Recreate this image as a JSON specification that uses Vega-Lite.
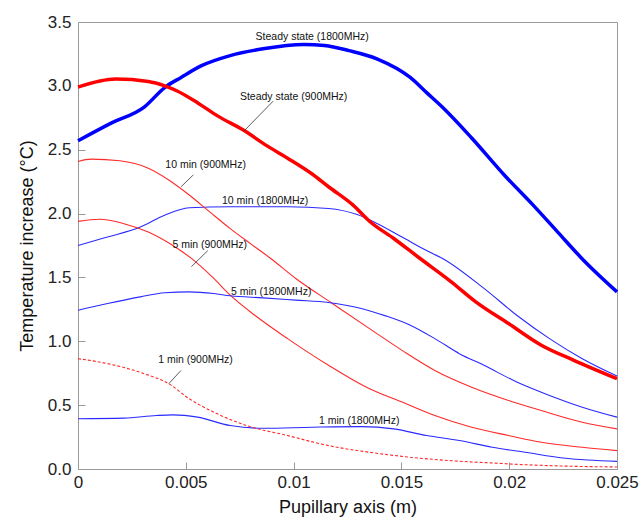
{
  "$schema": "https://vega.github.io/schema/vega-lite/v6.json",
  "width": 539,
  "height": 447,
  "autosize": {"type": "none"},
  "padding": {"left": 78, "top": 22, "right": 26, "bottom": 51},
  "background": "white",
  "config": {
    "view": {"stroke": "#999999", "strokeWidth": 1},
    "font": "Liberation Sans",
    "axis": {
      "grid": false,
      "domain": false,
      "tickColor": "#999999",
      "tickSize": -7,
      "labelFlush": false,
      "labelOverlap": false,
      "labelFont": "Liberation Sans",
      "labelFontSize": 17,
      "labelColor": "#222222",
      "titleFont": "Liberation Sans",
      "titleFontSize": 18,
      "titleFontWeight": "normal",
      "titleColor": "#111111"
    }
  },
  "datasets": {
    "curves": [
      {"s": "SS1800", "x": 0, "y": 2.57},
      {"s": "SS1800", "x": 0.00156, "y": 2.71},
      {"s": "SS1800", "x": 0.00307, "y": 2.834},
      {"s": "SS1800", "x": 0.00402, "y": 2.987},
      {"s": "SS1800", "x": 0.00478, "y": 3.066},
      {"s": "SS1800", "x": 0.00573, "y": 3.158},
      {"s": "SS1800", "x": 0.00706, "y": 3.237},
      {"s": "SS1800", "x": 0.00858, "y": 3.29},
      {"s": "SS1800", "x": 0.01048, "y": 3.324},
      {"s": "SS1800", "x": 0.01143, "y": 3.316},
      {"s": "SS1800", "x": 0.01257, "y": 3.276},
      {"s": "SS1800", "x": 0.01389, "y": 3.21},
      {"s": "SS1800", "x": 0.01541, "y": 3.066},
      {"s": "SS1800", "x": 0.01617, "y": 2.947},
      {"s": "SS1800", "x": 0.01693, "y": 2.829},
      {"s": "SS1800", "x": 0.01826, "y": 2.592},
      {"s": "SS1800", "x": 0.01978, "y": 2.3},
      {"s": "SS1800", "x": 0.02111, "y": 2.066},
      {"s": "SS1800", "x": 0.02225, "y": 1.855},
      {"s": "SS1800", "x": 0.02339, "y": 1.645},
      {"s": "SS1800", "x": 0.025, "y": 1.387},

      {"s": "SS900", "x": 0, "y": 2.99},
      {"s": "SS900", "x": 0.00175, "y": 3.053},
      {"s": "SS900", "x": 0.00326, "y": 3.034},
      {"s": "SS900", "x": 0.00402, "y": 3.0},
      {"s": "SS900", "x": 0.0046, "y": 2.96},
      {"s": "SS900", "x": 0.00554, "y": 2.868},
      {"s": "SS900", "x": 0.00649, "y": 2.763},
      {"s": "SS900", "x": 0.00763, "y": 2.658},
      {"s": "SS900", "x": 0.00877, "y": 2.53},
      {"s": "SS900", "x": 0.00972, "y": 2.434},
      {"s": "SS900", "x": 0.01086, "y": 2.31},
      {"s": "SS900", "x": 0.01162, "y": 2.21},
      {"s": "SS900", "x": 0.01276, "y": 2.066},
      {"s": "SS900", "x": 0.01352, "y": 1.94},
      {"s": "SS900", "x": 0.01466, "y": 1.803},
      {"s": "SS900", "x": 0.01579, "y": 1.658},
      {"s": "SS900", "x": 0.01731, "y": 1.466},
      {"s": "SS900", "x": 0.01845, "y": 1.309},
      {"s": "SS900", "x": 0.01997, "y": 1.139},
      {"s": "SS900", "x": 0.02149, "y": 0.969},
      {"s": "SS900", "x": 0.023, "y": 0.851},
      {"s": "SS900", "x": 0.025, "y": 0.707},

      {"s": "10m1800", "x": 0, "y": 1.75},
      {"s": "10m1800", "x": 0.00137, "y": 1.816},
      {"s": "10m1800", "x": 0.00289, "y": 1.895},
      {"s": "10m1800", "x": 0.00402, "y": 1.987},
      {"s": "10m1800", "x": 0.00516, "y": 2.045},
      {"s": "10m1800", "x": 0.00706, "y": 2.053},
      {"s": "10m1800", "x": 0.00972, "y": 2.053},
      {"s": "10m1800", "x": 0.01162, "y": 2.04},
      {"s": "10m1800", "x": 0.01295, "y": 1.992},
      {"s": "10m1800", "x": 0.01389, "y": 1.921},
      {"s": "10m1800", "x": 0.01503, "y": 1.816},
      {"s": "10m1800", "x": 0.01617, "y": 1.71},
      {"s": "10m1800", "x": 0.01693, "y": 1.647},
      {"s": "10m1800", "x": 0.01883, "y": 1.414},
      {"s": "10m1800", "x": 0.02035, "y": 1.204},
      {"s": "10m1800", "x": 0.02187, "y": 1.021},
      {"s": "10m1800", "x": 0.02339, "y": 0.864},
      {"s": "10m1800", "x": 0.025, "y": 0.728},

      {"s": "10m900", "x": 0, "y": 2.408},
      {"s": "10m900", "x": 0.00061, "y": 2.426},
      {"s": "10m900", "x": 0.00194, "y": 2.413},
      {"s": "10m900", "x": 0.00326, "y": 2.355},
      {"s": "10m900", "x": 0.00421, "y": 2.263},
      {"s": "10m900", "x": 0.00516, "y": 2.145},
      {"s": "10m900", "x": 0.00611, "y": 2.013},
      {"s": "10m900", "x": 0.00706, "y": 1.882},
      {"s": "10m900", "x": 0.00801, "y": 1.763},
      {"s": "10m900", "x": 0.00891, "y": 1.652},
      {"s": "10m900", "x": 0.0101, "y": 1.492},
      {"s": "10m900", "x": 0.0118, "y": 1.296},
      {"s": "10m900", "x": 0.01352, "y": 1.099},
      {"s": "10m900", "x": 0.01503, "y": 0.929},
      {"s": "10m900", "x": 0.01655, "y": 0.772},
      {"s": "10m900", "x": 0.01826, "y": 0.641},
      {"s": "10m900", "x": 0.01997, "y": 0.537},
      {"s": "10m900", "x": 0.02149, "y": 0.458},
      {"s": "10m900", "x": 0.02339, "y": 0.366},
      {"s": "10m900", "x": 0.025, "y": 0.314},

      {"s": "5m900", "x": 0, "y": 1.939},
      {"s": "5m900", "x": 0.00099, "y": 1.955},
      {"s": "5m900", "x": 0.00213, "y": 1.921},
      {"s": "5m900", "x": 0.00326, "y": 1.855},
      {"s": "5m900", "x": 0.0044, "y": 1.75},
      {"s": "5m900", "x": 0.00526, "y": 1.649},
      {"s": "5m900", "x": 0.0063, "y": 1.492},
      {"s": "5m900", "x": 0.00706, "y": 1.361},
      {"s": "5m900", "x": 0.0082, "y": 1.204},
      {"s": "5m900", "x": 0.00972, "y": 1.021},
      {"s": "5m900", "x": 0.01162, "y": 0.812},
      {"s": "5m900", "x": 0.01352, "y": 0.628},
      {"s": "5m900", "x": 0.01503, "y": 0.524},
      {"s": "5m900", "x": 0.01655, "y": 0.419},
      {"s": "5m900", "x": 0.01826, "y": 0.327},
      {"s": "5m900", "x": 0.01997, "y": 0.262},
      {"s": "5m900", "x": 0.02149, "y": 0.209},
      {"s": "5m900", "x": 0.02339, "y": 0.17},
      {"s": "5m900", "x": 0.025, "y": 0.144},

      {"s": "5m1800", "x": 0, "y": 1.243},
      {"s": "5m1800", "x": 0.00137, "y": 1.296},
      {"s": "5m1800", "x": 0.00289, "y": 1.348},
      {"s": "5m1800", "x": 0.00402, "y": 1.38},
      {"s": "5m1800", "x": 0.00516, "y": 1.387},
      {"s": "5m1800", "x": 0.0063, "y": 1.374},
      {"s": "5m1800", "x": 0.00706, "y": 1.356},
      {"s": "5m1800", "x": 0.00858, "y": 1.34},
      {"s": "5m1800", "x": 0.0101, "y": 1.322},
      {"s": "5m1800", "x": 0.01162, "y": 1.304},
      {"s": "5m1800", "x": 0.01314, "y": 1.257},
      {"s": "5m1800", "x": 0.01427, "y": 1.199},
      {"s": "5m1800", "x": 0.01541, "y": 1.126},
      {"s": "5m1800", "x": 0.01655, "y": 1.021},
      {"s": "5m1800", "x": 0.01769, "y": 0.903},
      {"s": "5m1800", "x": 0.01883, "y": 0.812},
      {"s": "5m1800", "x": 0.02035, "y": 0.681},
      {"s": "5m1800", "x": 0.02187, "y": 0.576},
      {"s": "5m1800", "x": 0.02339, "y": 0.484},
      {"s": "5m1800", "x": 0.025, "y": 0.406},

      {"s": "1m900", "x": 0, "y": 0.864},
      {"s": "1m900", "x": 0.00137, "y": 0.825},
      {"s": "1m900", "x": 0.00307, "y": 0.746},
      {"s": "1m900", "x": 0.00421, "y": 0.668},
      {"s": "1m900", "x": 0.00516, "y": 0.55},
      {"s": "1m900", "x": 0.0063, "y": 0.445},
      {"s": "1m900", "x": 0.00782, "y": 0.34},
      {"s": "1m900", "x": 0.00972, "y": 0.262},
      {"s": "1m900", "x": 0.01162, "y": 0.183},
      {"s": "1m900", "x": 0.01352, "y": 0.131},
      {"s": "1m900", "x": 0.01541, "y": 0.092},
      {"s": "1m900", "x": 0.01731, "y": 0.065},
      {"s": "1m900", "x": 0.01921, "y": 0.047},
      {"s": "1m900", "x": 0.0211, "y": 0.031},
      {"s": "1m900", "x": 0.023, "y": 0.021},
      {"s": "1m900", "x": 0.025, "y": 0.016},

      {"s": "1m1800", "x": 0, "y": 0.393},
      {"s": "1m1800", "x": 0.00213, "y": 0.398},
      {"s": "1m1800", "x": 0.00364, "y": 0.419},
      {"s": "1m1800", "x": 0.0044, "y": 0.424},
      {"s": "1m1800", "x": 0.00554, "y": 0.406},
      {"s": "1m1800", "x": 0.00706, "y": 0.34},
      {"s": "1m1800", "x": 0.00858, "y": 0.319},
      {"s": "1m1800", "x": 0.01086, "y": 0.327},
      {"s": "1m1800", "x": 0.01314, "y": 0.332},
      {"s": "1m1800", "x": 0.01465, "y": 0.314},
      {"s": "1m1800", "x": 0.01617, "y": 0.262},
      {"s": "1m1800", "x": 0.01769, "y": 0.223},
      {"s": "1m1800", "x": 0.01921, "y": 0.17},
      {"s": "1m1800", "x": 0.02073, "y": 0.131},
      {"s": "1m1800", "x": 0.02262, "y": 0.084},
      {"s": "1m1800", "x": 0.025, "y": 0.06}
    ],
    "labels": [
      {"t": "Steady state (1800MHz)", "x": 0.01086, "y": 3.382},
      {"t": "Steady state (900MHz)", "x": 0.0100, "y": 2.916},
      {"t": "10 min (900MHz)", "x": 0.00592, "y": 2.382},
      {"t": "10 min (1800MHz)", "x": 0.00868, "y": 2.097},
      {"t": "5 min (900MHz)", "x": 0.00611, "y": 1.755},
      {"t": "5 min (1800MHz)", "x": 0.00896, "y": 1.387},
      {"t": "1 min (900MHz)", "x": 0.00545, "y": 0.851},
      {"t": "1 min (1800MHz)", "x": 0.01304, "y": 0.374}
    ],
    "leaders": [
      {"x": 0.00905, "y": 2.88, "x2": 0.00769, "y2": 2.645},
      {"x": 0.00535, "y": 2.303, "x2": 0.00478, "y2": 2.21},
      {"x": 0.00602, "y": 1.71, "x2": 0.00526, "y2": 1.584},
      {"x": 0.00478, "y": 0.772, "x2": 0.00421, "y2": 0.668}
    ]
  },
  "layer": [
    {
      "data": {"name": "curves"},
      "transform": [{"filter": "datum.s !== 'SS1800' && datum.s !== 'SS900' && datum.s !== '1m900'"}],
      "mark": {"type": "line", "strokeWidth": 1.1, "interpolate": "monotone"},
      "encoding": {
        "x": {
          "field": "x", "type": "quantitative",
          "scale": {"domain": [0, 0.025], "nice": false},
          "axis": {"values": [0, 0.005, 0.01, 0.015, 0.02, 0.025], "format": "~g", "titlePadding": 8, "labelPadding": 12},
          "title": "Pupillary axis (m)"
        },
        "y": {
          "field": "y", "type": "quantitative",
          "scale": {"domain": [0, 3.5], "nice": false},
          "axis": {"values": [0, 0.5, 1, 1.5, 2, 2.5, 3, 3.5], "format": ".1f", "titlePadding": 11, "labelPadding": 14},
          "title": "Temperature increase (°C)"
        },
        "detail": {"field": "s"},
        "color": {
          "field": "s", "type": "nominal", "legend": null,
          "scale": {
            "domain": ["10m1800", "10m900", "5m900", "5m1800", "1m1800"],
            "range": ["#2a2aff", "#ff2a2a", "#ff2a2a", "#2a2aff", "#2a2aff"]
          }
        }
      }
    },
    {
      "data": {"name": "curves"},
      "transform": [{"filter": "datum.s === '1m900'"}],
      "mark": {"type": "line", "strokeWidth": 1.1, "strokeDash": [3, 2], "color": "#ff2a2a", "interpolate": "monotone"},
      "encoding": {
        "x": {"field": "x", "type": "quantitative"},
        "y": {"field": "y", "type": "quantitative"}
      }
    },
    {
      "data": {"name": "curves"},
      "transform": [{"filter": "datum.s === 'SS1800' || datum.s === 'SS900'"}],
      "mark": {"type": "line", "strokeWidth": 3.5, "interpolate": "monotone"},
      "encoding": {
        "x": {"field": "x", "type": "quantitative"},
        "y": {"field": "y", "type": "quantitative"},
        "color": {
          "field": "s", "type": "nominal", "legend": null,
          "scale": {"domain": ["SS1800", "SS900"], "range": ["#0000ff", "#ff0000"]}
        }
      }
    },
    {
      "data": {"name": "leaders"},
      "mark": {"type": "rule", "color": "#333333", "strokeWidth": 0.8},
      "encoding": {
        "x": {"field": "x", "type": "quantitative"},
        "y": {"field": "y", "type": "quantitative"},
        "x2": {"field": "x2"},
        "y2": {"field": "y2"}
      }
    },
    {
      "data": {"name": "labels"},
      "mark": {"type": "text", "font": "Liberation Sans", "fontSize": 10.5, "color": "#111111", "align": "center", "baseline": "middle"},
      "encoding": {
        "x": {"field": "x", "type": "quantitative"},
        "y": {"field": "y", "type": "quantitative"},
        "text": {"field": "t"}
      }
    }
  ],
  "resolve": {"scale": {"color": "independent"}}
}
